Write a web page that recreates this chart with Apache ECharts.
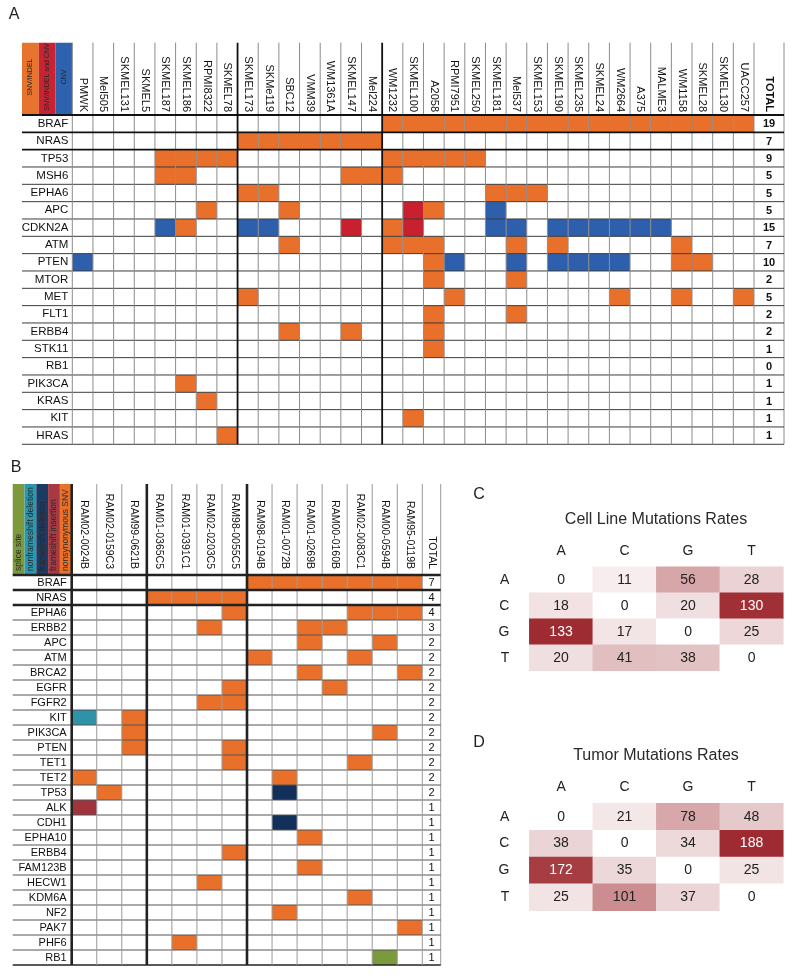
<!DOCTYPE html>
<html><head><meta charset="utf-8">
<script src="https://cdn.jsdelivr.net/npm/echarts@6/dist/echarts.min.js"></script>
<style>html,body{margin:0;padding:0;background:#fff}#c{width:797px;height:979px}</style>
</head><body><div id="c"></div>
<script>
const FONT = '"Liberation Sans", Arial, Helvetica, sans-serif';

// ---------- Panel A data ----------
const cellLinesA = ['PMWK','Mel505','SKMEL131','SKMEL5','SKMEL187','SKMEL186','RPMI8322','SKMEL78','SKMEL173','SKMe119','SBC12','VMM39','WM1361A','SKMEL147','Mel224','WM1232','SKMEL100','A2058','RPMI7951','SKMEL250','SKMEL181','Mel537','SKMEL153','SKMEL190','SKMEL235','SKMEL24','WM2664','A375','MALME3','WM1158','SKMEL28','SKMEL130','UACC257'];
const genesA = ['BRAF','NRAS','TP53','MSH6','EPHA6','APC','CDKN2A','ATM','PTEN','MTOR','MET','FLT1','ERBB4','STK11','RB1','PIK3CA','KRAS','KIT','HRAS'];
const totalsA = [19,7,9,5,5,5,15,7,10,2,5,2,2,1,0,1,1,1,1];
const groupBreaksA = [8,15];
const typesA = ['SNV/INDEL','SNV/INDEL and CNV','CNV'];   // codes 1,2,3
const mutationsA = [
  '00000000|0000000|111111111111111111', // BRAF
  '00000000|1111111|000000000000000000', // NRAS
  '00001111|0000000|111110000000000000', // TP53
  '00001100|0000011|100000000000000000', // MSH6
  '00000000|1100000|000001110000000000', // EPHA6
  '00000010|0010000|021003000000000000', // APC
  '00003100|3300020|120003303333330000', // CDKN2A
  '00000000|0010000|111000101000001000', // ATM
  '30000000|0000000|001300303333001100', // PTEN
  '00000000|0000000|001000100000000000', // MTOR
  '00000000|1000000|000100000001001001', // MET
  '00000000|0000000|001000100000000000', // FLT1
  '00000000|0010010|001000000000000000', // ERBB4
  '00000000|0000000|001000000000000000', // STK11
  '00000000|0000000|000000000000000000', // RB1
  '00000100|0000000|000000000000000000', // PIK3CA
  '00000010|0000000|000000000000000000', // KRAS
  '00000000|0000000|010000000000000000', // KIT
  '00000001|0000000|000000000000000000'  // HRAS
];

// ---------- Panel B data ----------
const samplesB = ['RAM02-0024B','RAM02-0159C3','RAM99-0621B','RAM01-0365C5','RAM01-0391C1','RAM02-0203C5','RAM98-0055C5','RAM98-0194B','RAM01-0072B','RAM01-0269B','RAM00-0160B','RAM02-0083C1','RAM00-0594B','RAM95-0119B'];
const genesB = ['BRAF','NRAS','EPHA6','ERBB2','APC','ATM','BRCA2','EGFR','FGFR2','KIT','PIK3CA','PTEN','TET1','TET2','TP53','ALK','CDH1','EPHA10','ERBB4','FAM123B','HECW1','KDM6A','NF2','PAK7','PHF6','RB1'];
const totalsB = [7,4,4,3,2,2,2,2,2,2,2,2,2,2,2,1,1,1,1,1,1,1,1,1,1,1];
const groupBreaksB = [0,3,7];
const typesB = ['nonsynonymous SNV','frameshift insertion','frameshift deletion','nonframeshift deletion','splice site']; // codes 1..5
const mutationsB = [
  '000|0000|1111111', // BRAF
  '000|1111|0000000', // NRAS
  '000|0001|0000111', // EPHA6
  '000|0010|0011000', // ERBB2
  '000|0000|0010010', // APC
  '000|0000|1000100', // ATM
  '000|0000|0010001', // BRCA2
  '000|0001|0001000', // EGFR
  '000|0011|0000000', // FGFR2
  '401|0000|0000000', // KIT
  '001|0000|0000010', // PIK3CA
  '001|0001|0000000', // PTEN
  '000|0001|0000100', // TET1
  '100|0000|0100000', // TET2
  '010|0000|0300000', // TP53
  '200|0000|0000000', // ALK
  '000|0000|0300000', // CDH1
  '000|0000|0010000', // EPHA10
  '000|0001|0000000', // ERBB4
  '000|0000|0010000', // FAM123B
  '000|0010|0000000', // HECW1
  '000|0000|0000100', // KDM6A
  '000|0000|0100000', // NF2
  '000|0000|0000001', // PAK7
  '000|0100|0000000', // PHF6
  '000|0000|0000050'  // RB1
];

// ---------- Panels C, D data ----------
const bases = ['A','C','G','T'];
const cellLineRates = [[0,11,56,28],[18,0,20,130],[133,17,0,25],[20,41,38,0]];
const tumorRates = [[0,21,78,48],[38,0,34,188],[172,35,0,25],[25,101,37,0]];

// ---------- styles ----------
const colorsA = {1:'#E8702A', 2:'#C8202F', 3:'#2E5FAD'};
const colorsB = {1:'#E8702A', 2:'#A0333B', 3:'#12305A', 4:'#2E92A8', 5:'#7A9A3C'};
const legendColorsA = ['#E8732C','#C82332','#2E62AE'];
const legendColorsB = ['#7C9A3C','#2B97AE','#1C3B64','#A53A45','#EB7028']; // left to right

function toCells(rows){
  const out=[];
  rows.forEach((s,r)=>{ s.replace(/\|/g,'').split('').map(Number).forEach((v,c)=>{ if(v>0) out.push([c,r,v]); }); });
  return out;
}
const cellsA = toCells(mutationsA);
const cellsB = toCells(mutationsB);

function cellRender(colorMap){
  return function(params, api){
    const c = api.coord([api.value(0), api.value(1)]);
    const s = api.size([1,1]);
    return {type:'rect', shape:{x:c[0]-s[0]/2, y:c[1]-s[1]/2, width:s[0], height:s[1]}, style:{fill: colorMap[api.value(2)]}};
  };
}
function linesRender(o){
  return function(params, api){
    const bw = api.size([1,0])[0], bh = api.size([0,1])[1];
    const xb = b => b < o.nCols ? api.coord([b,0])[0]-bw/2 : api.coord([o.nCols-1,0])[0]+bw/2;
    const yb = r => r < o.nRows ? api.coord([0,r])[1]-bh/2 : api.coord([0,o.nRows-1])[1]+bh/2;
    const top = yb(0), bottom = yb(o.nRows);
    const ch = [];
    for(let r=0;r<=o.nRows;r++){
      const th = o.thickH.includes(r);
      ch.push({type:'line', z2: th?3:1, shape:{x1:xb(0)-o.extLeft, y1:yb(r), x2:xb(o.nCols)+o.extRight, y2:yb(r)},
        style:{stroke: th?o.thickColor:(r===o.nRows?o.bottomColor:o.hColor), lineWidth: th?o.thickW:(r===o.nRows?o.bottomW:1)}});
    }
    for(let b=0;b<=o.nCols;b++){
      const th = o.breaks.includes(b);
      ch.push({type:'line', z2: th?4:2, shape:{x1:xb(b), y1:top-o.headerH, x2:xb(b), y2:bottom},
        style:{stroke: th?o.thickColor:o.vColor, lineWidth: th?o.thickW:1}});
    }
    return {type:'group', children: ch};
  };
}
function totalRender(fontSpec){
  return function(params, api){
    const c = api.coord([0, api.value(1)]);
    return {type:'text', style:{text:String(api.value(2)), x:c[0], y:c[1]+0.5, align:'center', verticalAlign:'middle', textAlign:'center', textVerticalAlign:'middle', font: fontSpec, fill:'#111'}};
  };
}
function borderRender(headerH, color){
  return function(params, api){
    const cs = params.coordSys;
    return {type:'line', shape:{x1:cs.x+cs.width, y1:cs.y-headerH, x2:cs.x+cs.width, y2:cs.y+cs.height}, style:{stroke:color, lineWidth:1}};
  };
}

const hideAxis = {axisLine:{show:false}, axisTick:{show:false}, splitLine:{show:false}};

const gridsLayout = [
  {left:72.3, top:115, width:681.7, height:329.3},   // A main
  {left:754, top:115, width:30, height:329.3},       // A total
  {left:71.7, top:575, width:350.6, height:390},     // B main
  {left:422.3, top:575, width:18.4, height:390},     // B total
  {left:529.3, top:566.7, width:254, height:104},    // C
  {left:529.3, top:803.3, width:254, height:107.4}   // D
];

const xAxes = [
  Object.assign({type:'category', gridIndex:0, data:cellLinesA, position:'top', axisLabel:{rotate:90, interval:0, fontSize:11, fontFamily:FONT, color:'#111', margin:3}}, hideAxis),
  Object.assign({type:'category', gridIndex:1, data:['TOTAL'], position:'top', axisLabel:{rotate:90, interval:0, fontSize:11, fontWeight:'bold', fontFamily:FONT, color:'#111', margin:3}}, hideAxis),
  Object.assign({type:'category', gridIndex:2, data:samplesB, position:'top', axisLabel:{rotate:90, interval:0, fontSize:10.5, fontFamily:FONT, color:'#111', margin:6}}, hideAxis),
  Object.assign({type:'category', gridIndex:3, data:['TOTAL'], position:'top', axisLabel:{rotate:90, interval:0, fontSize:10.5, fontFamily:FONT, color:'#111', margin:6}}, hideAxis),
  Object.assign({type:'category', gridIndex:4, data:bases, position:'top', axisLabel:{fontSize:14, fontFamily:FONT, color:'#222', margin:9}}, hideAxis),
  Object.assign({type:'category', gridIndex:5, data:bases, position:'top', axisLabel:{fontSize:14, fontFamily:FONT, color:'#222', margin:9}}, hideAxis)
];
const yAxes = [
  Object.assign({type:'category', gridIndex:0, data:genesA, inverse:true, axisLabel:{interval:0, fontSize:11.5, fontFamily:FONT, color:'#111', margin:4}}, hideAxis),
  Object.assign({type:'category', gridIndex:1, data:genesA, inverse:true, axisLabel:{show:false}}, hideAxis),
  Object.assign({type:'category', gridIndex:2, data:genesB, inverse:true, axisLabel:{interval:0, fontSize:11, fontFamily:FONT, color:'#111', margin:5}}, hideAxis),
  Object.assign({type:'category', gridIndex:3, data:genesB, inverse:true, axisLabel:{show:false}}, hideAxis),
  Object.assign({type:'category', gridIndex:4, data:bases, inverse:true, axisLabel:{fontSize:14, fontFamily:FONT, color:'#222', margin:20}}, hideAxis),
  Object.assign({type:'category', gridIndex:5, data:bases, inverse:true, axisLabel:{fontSize:14, fontFamily:FONT, color:'#222', margin:20}}, hideAxis)
];

function heatData(m){
  const mx = Math.max(...m.flat());
  const out=[];
  m.forEach((row,r)=>row.forEach((v,c)=>out.push({value:[c,r,v], label:{color: v>mx*0.6?'#ffffff':'#222222'}})));
  return out;
}

const series = [
  {type:'custom', xAxisIndex:0, yAxisIndex:0, data:cellsA, renderItem:cellRender(colorsA), clip:false, z:2, silent:true},
  {type:'custom', xAxisIndex:0, yAxisIndex:0, data:[[0,0]], clip:false, z:3, silent:true,
    renderItem:linesRender({nCols:cellLinesA.length, nRows:genesA.length, breaks:groupBreaksA, thickH:[0,1,2], headerH:72.3, extLeft:50.3, extRight:30,
      vColor:'#8c8c8c', hColor:'#3c3c3c', thickColor:'#111', thickW:1.8, bottomColor:'#3c3c3c', bottomW:1})},
  {type:'custom', xAxisIndex:1, yAxisIndex:1, data:totalsA.map((t,r)=>[0,r,t]), clip:false, z:3, silent:true,
    renderItem:totalRender('bold 11px '+FONT)},
  {type:'custom', xAxisIndex:1, yAxisIndex:1, data:[[0,0]], clip:false, z:3, silent:true, renderItem:borderRender(72.3,'#8c8c8c')},

  {type:'custom', xAxisIndex:2, yAxisIndex:2, data:cellsB, renderItem:cellRender(colorsB), clip:false, z:2, silent:true},
  {type:'custom', xAxisIndex:2, yAxisIndex:2, data:[[0,0]], clip:false, z:3, silent:true,
    renderItem:linesRender({nCols:samplesB.length, nRows:genesB.length, breaks:groupBreaksB, thickH:[0,1,2], headerH:91, extLeft:59, extRight:18.4,
      vColor:'#9a9a9a', hColor:'#555', thickColor:'#222', thickW:2.6, bottomColor:'#222', bottomW:1.6})},
  {type:'custom', xAxisIndex:3, yAxisIndex:3, data:totalsB.map((t,r)=>[0,r,t]), clip:false, z:3, silent:true,
    renderItem:totalRender('11px '+FONT)},
  {type:'custom', xAxisIndex:3, yAxisIndex:3, data:[[0,0]], clip:false, z:3, silent:true, renderItem:borderRender(91,'#9a9a9a')},

  {type:'heatmap', xAxisIndex:4, yAxisIndex:4, data:heatData(cellLineRates), label:{show:true, fontSize:14, fontFamily:FONT}, itemStyle:{borderWidth:0}, silent:true},
  {type:'heatmap', xAxisIndex:5, yAxisIndex:5, data:heatData(tumorRates), label:{show:true, fontSize:14, fontFamily:FONT}, itemStyle:{borderWidth:0}, silent:true}
];

// legend stripes + panel letters + titles
const graphics = [];
legendColorsA.forEach((col,i)=>{
  const x = 22 + i*16.77;
  graphics.push({type:'rect', shape:{x:x, y:42.7, width:16.77, height:71.6}, style:{fill:col}, silent:true});
  graphics.push({type:'text', x:x+8.4, y:77, rotation:Math.PI/2, style:{text:typesA[i], font:'7px '+FONT, fill:'#2a2a2a', align:'center', verticalAlign:'middle', textAlign:'center', textVerticalAlign:'middle'}, silent:true});
});
const legendOrderB = [5,4,3,2,1]; // codes left to right
legendColorsB.forEach((col,i)=>{
  const x = 12.7 + i*11.8;
  graphics.push({type:'rect', shape:{x:x, y:484, width:11.8, height:91}, style:{fill:col}, silent:true});
  graphics.push({type:'text', x:x+5.9, y:571, rotation:Math.PI/2, style:{text:typesB[legendOrderB[i]-1], font:'8.5px '+FONT, fill:'#2a2a2a', align:'left', verticalAlign:'middle', textAlign:'left', textVerticalAlign:'middle'}, silent:true});
});
[['A',14,15],['B',16,468],['C',479,495],['D',479,743]].forEach(([t,x,y])=>{
  graphics.push({type:'text', x:x, y:y, style:{text:t, font:'16px '+FONT, fill:'#222', align:'center', verticalAlign:'middle', textAlign:'center', textVerticalAlign:'middle'}, silent:true});
});
[['Cell Line Mutations Rates',656,520],['Tumor Mutations Rates',656,756]].forEach(([t,x,y])=>{
  graphics.push({type:'text', x:x, y:y, style:{text:t, font:'16px '+FONT, fill:'#2a2a2a', align:'center', verticalAlign:'middle', textAlign:'center', textVerticalAlign:'middle'}, silent:true});
});

const chart = echarts.init(document.getElementById('c'), null, {renderer:'canvas'});
chart.setOption({
  animation:false,
  backgroundColor:'#ffffff',
  textStyle:{fontFamily:FONT},
  grid: gridsLayout,
  xAxis: xAxes,
  yAxis: yAxes,
  visualMap:[
    {type:'continuous', show:false, seriesIndex:8, dimension:2, min:0, max:133, inRange:{color:['#ffffff','#9E2B31']}},
    {type:'continuous', show:false, seriesIndex:9, dimension:2, min:0, max:188, inRange:{color:['#ffffff','#9E2B31']}}
  ],
  series: series,
  graphic: graphics
});
</script></body></html>
